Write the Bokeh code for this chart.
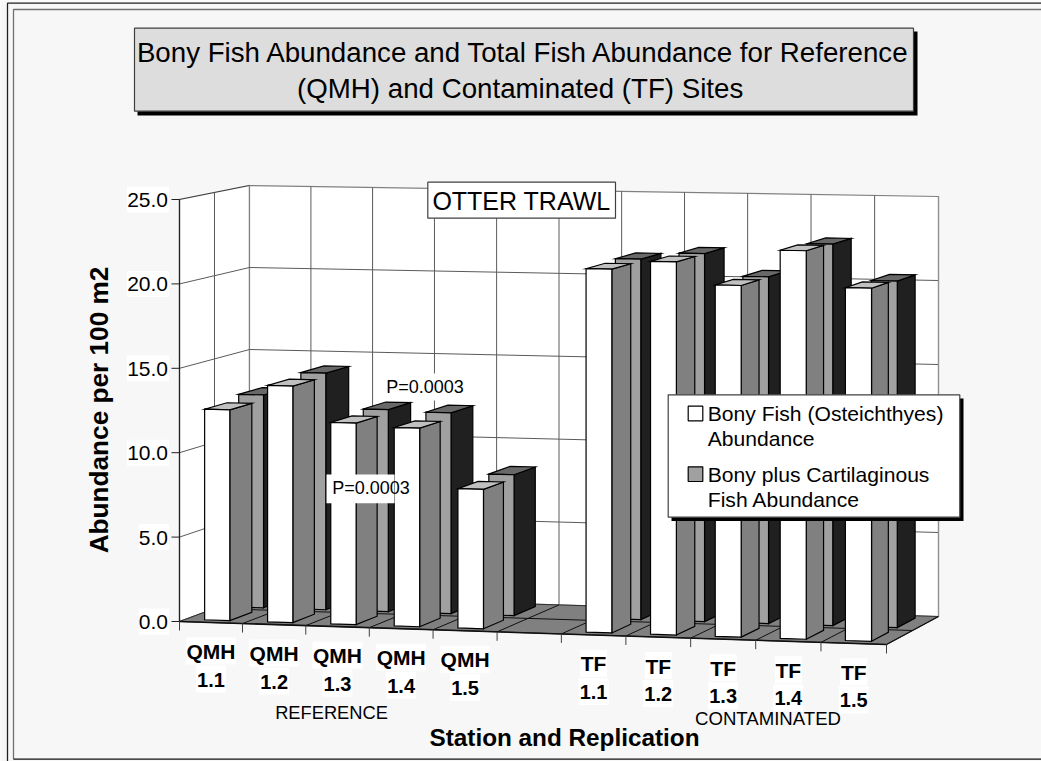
from math import pi
from bokeh.plotting import figure
from bokeh.models import Range1d
from bokeh.core.properties import value
from bokeh.embed import file_html
from bokeh.resources import INLINE

# ---- data
categories = ["QMH 1.1", "QMH 1.2", "QMH 1.3", "QMH 1.4", "QMH 1.5", "",
              "TF 1.1", "TF 1.2", "TF 1.3", "TF 1.4", "TF 1.5"]
bony = [12.5, 14.0, 11.9, 11.7, 8.2, None, 21.3, 21.8, 20.5, 22.6, 20.5]
bony_plus_cartilaginous = [12.8, 14.2, 12.1, 12.0, 8.4, None, 21.4, 21.8, 20.5, 22.5, 20.4]
y_ticks = [0, 5, 10, 15, 20, 25]
y_tick_labels = ["0.0", "5.0", "10.0", "15.0", "20.0", "25.0"]
title_lines = ["Bony Fish Abundance and Total Fish Abundance for Reference",
               "(QMH)  and Contaminated (TF) Sites"]
legend_lines = ["Bony Fish (Osteichthyes)", "Abundance",
                "Bony plus Cartilaginous", "Fish Abundance"]

FONT = value("Liberation Sans")
N = len(categories)
VMAX = 25.0


def lerp(a, b, t):
    return a + (b - a) * t


def proj(u, d, v=0.0):
    """category position u, depth d (0 front, 1 back), value v -> page pixels"""
    k = 0.002
    t = (u + k * u * u) / (N + k * N * N)
    x = lerp(lerp(179, 886, t), lerp(249, 938, t), d)
    y0 = lerp(lerp(621, 644, t), lerp(595, 616, t), d)
    h = lerp(lerp(422, 432, t), lerp(410, 420, t), d) / VMAX
    return x, y0 - v * h


p = figure(width=1041, height=761, output_backend="svg", toolbar_location=None,
           x_range=Range1d(0, 1041), y_range=Range1d(761, 0),
           x_axis_location=None, y_axis_location=None,
           min_border=0, min_border_left=0, min_border_right=0,
           min_border_top=0, min_border_bottom=0,
           background_fill_color="#f7f7f7", border_fill_color="#f7f7f7",
           outline_line_color=None)
p.grid.visible = False

GRID = "#5a5a5a"


def poly(points, fill, line="black", width=1.2):
    p.patch([q[0] for q in points], [q[1] for q in points],
            fill_color=fill, line_color=line, line_width=width, line_join="miter")


def seg(points, color="black", width=1.0):
    p.line([q[0] for q in points], [q[1] for q in points], line_color=color, line_width=width)


def box(x0, y0, x1, y1, fill, line=None, width=1.2):
    p.quad(left=[x0], right=[x1], top=[y0], bottom=[y1], fill_color=fill,
           line_color=line, line_width=width)


def txt(x, y, s, size, bold=False, align="center", angle=0.0, baseline="middle", color="black"):
    p.text([x], [y], text=[s], text_font=FONT, text_font_size=f"{size}px",
           text_font_style="bold" if bold else "normal", text_align=align,
           text_baseline=baseline, angle=angle, text_color=color)


# ---- page frame
seg([(7, 761), (7, 2.7), (1041, 2.7)], "#202020", 1.3)
seg([(13, 758.7), (13, 9), (1041, 9)], "#707070", 1.3)
seg([(13, 758.7), (1041, 758.7)], "#101010", 1.3)

# ---- title box
box(137, 31, 917, 115, "black")
box(134, 27.7, 913, 110.7, "#dddddd", "#404040", 1.2)
txt(523.5, 52, title_lines[0], 27.7)
txt(523.5, 88, title_lines[1], 27.7)

# ---- walls and floor
poly([proj(0, 0, 0), proj(0, 0, VMAX), proj(0, 1, VMAX), proj(0, 1, 0)], "white", "#404040", 1.2)
poly([proj(0, 1, 0), proj(0, 1, VMAX), proj(N, 1, VMAX), proj(N, 1, 0)], "white", "#808080", 1.2)
poly([proj(0, 0, 0), proj(N, 0, 0), proj(N, 1, 0), proj(0, 1, 0)], "#808080", "#303030", 1.0)

# wall grid
for v in y_ticks[1:-1]:
    seg([proj(0, 0, v), proj(0, 1, v), proj(N, 1, v)], GRID, 1.0)
for u in range(1, N):
    seg([proj(u, 1, 0), proj(u, 1, VMAX)], GRID, 1.0)
seg([proj(0, 0.5, 0), proj(0, 0.5, VMAX)], GRID, 1.0)
seg([proj(N, 1, 0), proj(N, 1, VMAX)], "#909090", 1.2)
seg([proj(0, 0, 0), proj(0, 0, VMAX)], "#202020", 1.2)

# floor grid
for u in range(1, N):
    seg([proj(u, 0, 0), proj(u, 1, 0)], "#101010", 1.0)
seg([proj(0, 0.5, 0), proj(N, 0.5, 0)], "#101010", 1.0)
seg([proj(0, 0, 0), proj(N, 0, 0)], "#101010", 1.6)
seg([proj(N, 0, 0), proj(N, 1, 0)], "#101010", 1.2)

# ---- bars, back row first
U0, U1 = 0.30, 0.70
rows = [
    (bony_plus_cartilaginous, 0.58, 0.92, "#a0a0a0", "#202020", "#686868"),
    (bony, 0.09, 0.41, "#ffffff", "#808080", "#c0c0c0"),
]
for vals, d0, d1, front, side, top in rows:
    for i, v in enumerate(vals):
        if v is None:
            continue
        a, b = i + U0, i + U1
        poly([proj(b, d0, 0), proj(b, d1, 0), proj(b, d1, v), proj(b, d0, v)], side)
        poly([proj(a, d0, v), proj(b, d0, v), proj(b, d1, v), proj(a, d1, v)], top)
        poly([proj(a, d0, 0), proj(b, d0, 0), proj(b, d0, v), proj(a, d0, v)], front)

# ---- value axis ticks and labels
for v, s in zip(y_ticks, y_tick_labels):
    x, y = proj(0, 0, v)
    seg([(x - 8, y), (x, y)], "#202020", 1.0)
    w = 30 if len(s) == 3 else 42
    box(168.5 - w, y - 13, 168.5, y + 13, "white")
    txt(167.5, y + 0.5, s, 21, align="right")

# ---- category ticks and labels
for u in range(N + 1):
    x, y = proj(u, 0, 0)
    seg([(x, y), (x, y + 9)], "#404040", 1.0)
for i, c in enumerate(categories):
    if not c:
        continue
    x, y = proj(i + 0.5, 0, 0)
    a, b = c.split(" ")
    top = y + 15
    wa = 50 if a == "QMH" else 27
    box(x - wa / 2, top, x + wa / 2, top + 27, "white")
    box(x - 15, top + 28, x + 15, top + 55, "white")
    txt(x, top + 14, a, 21, bold=True)
    txt(x, top + 42, b, 20, bold=True)

txt(331, 712, "REFERENCE", 18.3)
txt(767.5, 718, "CONTAMINATED", 18.6)
txt(564, 737, "Station and Replication", 24.3, bold=True)
txt(98, 409.5, "Abundance per 100 m2", 26.2, bold=True, angle=pi / 2)

# ---- notes
box(427.3, 181.7, 615, 217.7, "white", "#404040", 1.2)
txt(521, 200, "OTTER TRAWL", 25)
box(381, 373, 467, 400, "white")
txt(424.5, 386.5, "P=0.0003", 18)
box(326, 474, 394, 502.7, "white")
txt(370.5, 487.7, "P=0.0003", 18)

# ---- legend
box(671, 398, 963, 520.5, "black")
box(667.7, 394.3, 959.3, 516.7, "white", "#404040", 1.2)
box(687.7, 405.7, 702.3, 420.3, "white", "black", 1.2)
box(687.7, 466.3, 702.3, 481, "#a0a0a0", "black", 1.2)
for y, s in zip([413, 438, 474, 499], legend_lines):
    txt(707.3, y, s, 21.1, align="left")

open("out.html", "w").write(file_html(p, INLINE))
